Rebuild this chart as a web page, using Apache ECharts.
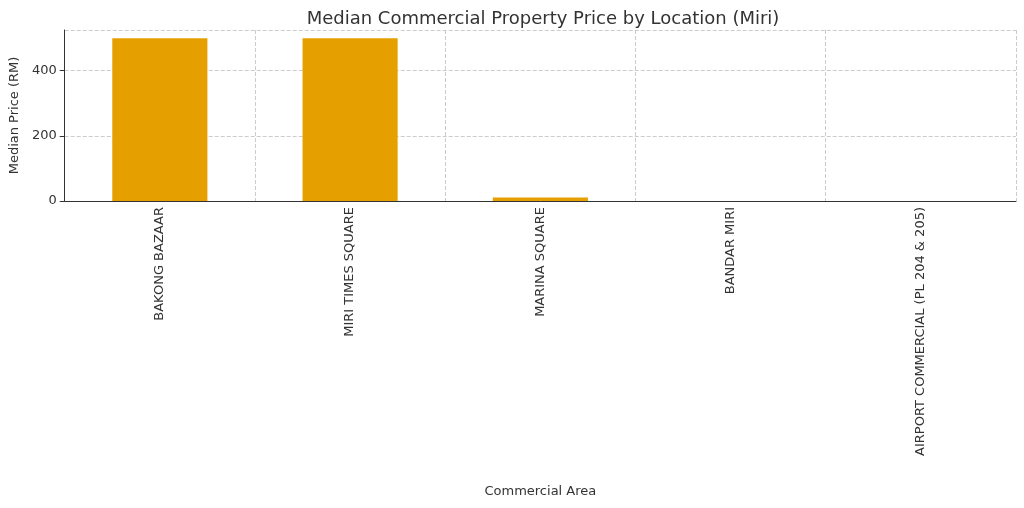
<!DOCTYPE html>
<html>
<head>
<meta charset="utf-8">
<title>Median Commercial Property Price</title>
<script src="https://cdn.jsdelivr.net/npm/echarts@6/dist/echarts.min.js"></script>
<style>html,body{margin:0;padding:0;background:#fff;}</style>
</head>
<body>
<div id="chart" style="width:1024px;height:508px;"></div>
<script>
var categories = ['BAKONG BAZAAR', 'MIRI TIMES SQUARE', 'MARINA SQUARE', 'BANDAR MIRI', 'AIRPORT COMMERCIAL (PL 204 & 205)'];
var prices = [500, 500, 11, 0, 0];

var chart = echarts.init(document.getElementById('chart'));
var font = 'DejaVu Sans';
chart.setOption({
	animation: false,
	title: {
		text: 'Median Commercial Property Price by Location (Miri)',
		left: 538, top: 5, textAlign: 'center',
		textStyle: { fontFamily: font, fontSize: 18, fontWeight: 'normal', color: '#333' }
	},
	grid: { left: 60, right: 8, top: 30, bottom: 307 },
	xAxis: {
		type: 'category', data: categories,
		name: 'Commercial Area', nameLocation: 'middle', nameGap: 284,
		nameTextStyle: { fontFamily: font, fontSize: 13, color: '#333' },
		axisLine: { lineStyle: { color: '#333' } },
		axisTick: { alignWithLabel: true, lineStyle: { color: '#333' } },
		axisLabel: { rotate: 90, interval: 0, fontFamily: font, fontSize: 13, color: '#333', margin: 6 },
		splitLine: { show: true, lineStyle: { color: '#ccc', type: 'dashed' } }
	},
	yAxis: {
		type: 'value', min: 0, max: 525, interval: 200,
		name: 'Median Price (RM)', nameLocation: 'middle', nameGap: 42,
		nameTextStyle: { fontFamily: font, fontSize: 13, color: '#333' },
		axisLine: { show: true, lineStyle: { color: '#333' } },
		axisTick: { show: true, lineStyle: { color: '#333' } },
		axisLabel: { fontFamily: font, fontSize: 13, color: '#333', showMaxLabel: false },
		splitLine: { lineStyle: { color: '#ccc', type: 'dashed' } }
	},
	series: [{
		type: 'bar', data: prices, barWidth: '50%',
		itemStyle: { color: '#e5a000' }
	}]
});
</script>
</body>
</html>
